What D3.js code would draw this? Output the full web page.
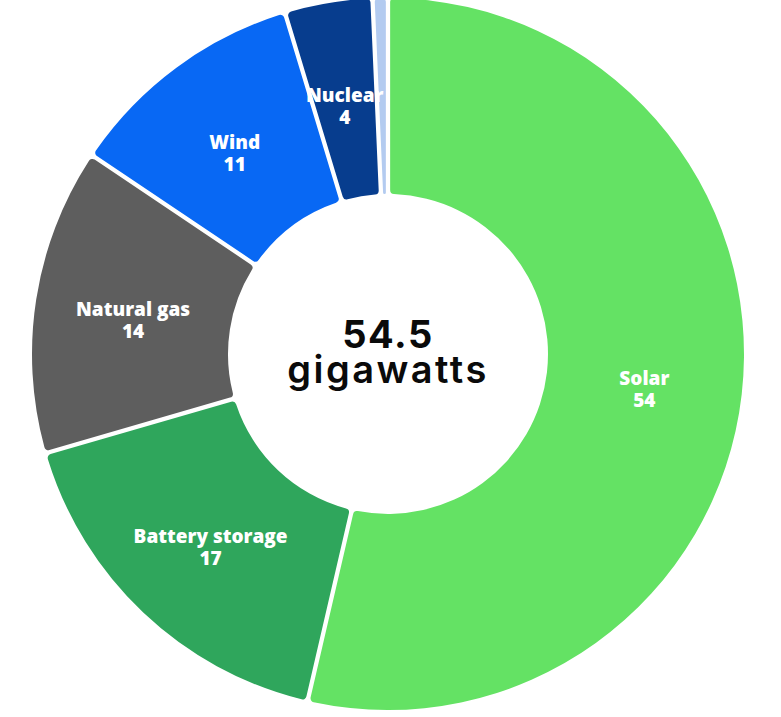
<!DOCTYPE html>
<html>
<head>
<meta charset="utf-8">
<script src="https://cdn.jsdelivr.net/npm/d3@7"></script>
<style>
  html, body { margin: 0; padding: 0; background: #ffffff; }
  svg { display: block; }
</style>
</head>
<body>
<svg id="chart" width="781" height="717"></svg>
<script>
// Data (shares of 54.5 GW)
const categories = ["Solar", "Battery storage", "Natural gas", "Wind", "Nuclear", "Other"];
const values = [54, 17, 14, 11, 4, 0.7];
const showLabel = [true, true, true, true, true, false];
const colors = ["#64e264", "#2fa65c", "#5e5e5e", "#0868f4", "#073d8e", "#b3cbf0"];
const centerValue = "54.5";
const centerUnit = "gigawatts";

const width = 781, height = 717;
const cx = 388, cy = 354;
const outerR = 356, innerR = 160;

const svg = d3.select("#chart");
const g = svg.append("g").attr("transform", `translate(${cx},${cy})`);

const data = categories.map((c, i) => ({ name: c, value: values[i], color: colors[i], show: showLabel[i] }));

const pie = d3.pie().sort(null).value(d => d.value).padAngle(0);
const arc = d3.arc().innerRadius(innerR).outerRadius(outerR).cornerRadius(4).padAngle(0.011);
const labelArc = d3.arc().innerRadius(innerR).outerRadius(outerR);

const arcs = pie(data);

g.selectAll("path.slice")
  .data(arcs)
  .join("path")
  .attr("class", "slice")
  .attr("d", arc)
  .attr("fill", d => d.data.color);

const labels = g.selectAll("g.label")
  .data(arcs.filter(d => d.data.show))
  .join("g")
  .attr("class", "label")
  .attr("transform", d => { const c = labelArc.centroid(d); return `translate(${c[0]},${c[1]})`; });

labels.append("text")
  .attr("text-anchor", "middle")
  .attr("y", 2)
  .attr("font-family", "'Open Sans', sans-serif")
  .attr("font-weight", 800)
  .attr("font-size", 19)
  .attr("fill", "#ffffff")
  .text(d => d.data.name);

labels.append("text")
  .attr("text-anchor", "middle")
  .attr("y", 24)
  .attr("font-family", "'Open Sans', sans-serif")
  .attr("font-weight", 800)
  .attr("font-size", 19)
  .attr("fill", "#ffffff")
  .text(d => d3.format("d")(d.data.value));

const center = g.append("g").attr("class", "center");
center.append("text")
  .attr("text-anchor", "middle")
  .attr("y", -6)
  .attr("font-family", "Inter, sans-serif")
  .attr("font-weight", 700)
  .attr("font-size", 38)
  .attr("letter-spacing", 1.5)
  .attr("fill", "#0a0a0a")
  .text(centerValue);
center.append("text")
  .attr("text-anchor", "middle")
  .attr("y", 29)
  .attr("font-family", "Inter, sans-serif")
  .attr("font-weight", 600)
  .attr("font-size", 38)
  .attr("letter-spacing", 2.5)
  .attr("fill", "#0a0a0a")
  .text(centerUnit);
</script>
</body>
</html>
